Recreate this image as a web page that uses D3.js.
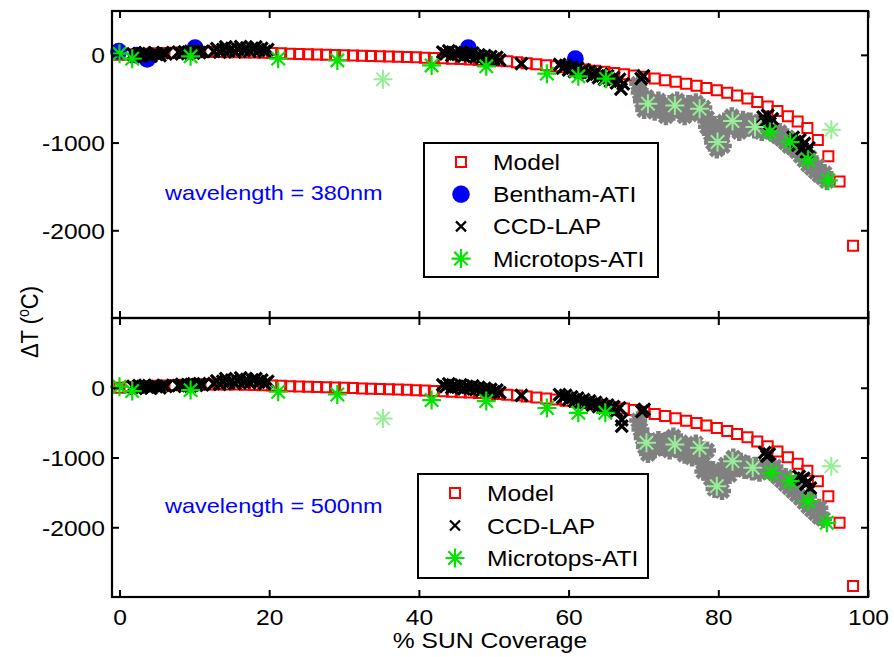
<!DOCTYPE html>
<html><head><meta charset="utf-8">
<script src="https://cdn.jsdelivr.net/npm/d3@7"></script>
<style>
body{margin:0;background:#fff;}
svg{display:block;font-family:"Liberation Sans",Arial,sans-serif;}
</style></head><body>
<svg id="c" width="894" height="657"></svg>
<script>
// ---------------- DATA ----------------
const xTicks = [0, 20, 40, 60, 80, 100];
const yTicks = [-2000, -1000, 0];
const xTitle = "% SUN Coverage";
const panelLabels = ["wavelength = 380nm", "wavelength = 500nm"];
const legendTop = ["Model", "Bentham-ATI", "CCD-LAP", "Microtops-ATI"];
const legendBottom = ["Model", "CCD-LAP", "Microtops-ATI"];

const modelX = [0,1.2,2.4,3.6,4.8,6.0,7.2,8.4,9.6,10.8,12.0,13.2,14.4,15.6,16.8,18.0,19.2,20.4,21.6,22.8,24.0,25.2,26.4,27.6,28.8,30.0,31.2,32.4,33.6,34.8,36.0,37.2,38.4,39.6,40.8,42.0,43.2,44.4,45.6,46.8,48.0,49.2,50.5,51.8,53.1,54.4,55.7,57.0,58.3,59.6,60.9,62.2,63.5,64.8,66.1,67.4,68.7,70.1,71.5,72.9,74.3,75.7,77.1,78.4,79.8,81.2,82.5,83.9,85.2,86.6,87.9,89.3,90.6,91.9,93.3,94.7,96.2,98.0];
const model380 = [0,5,10,14,18,22,25,28,30,31,32,32,31,30,28,26,23,20,17,14,11,8,5,2,-1,-4,-7,-10,-13,-16,-19,-22,-25,-28,-32,-36,-40,-44,-48,-53,-58,-63,-68,-74,-85,-96,-107,-118,-129,-141,-153,-166,-180,-194,-208,-222,-236,-250,-270,-289,-308,-328,-352,-377,-403,-432,-462,-497,-537,-588,-640,-700,-760,-835,-970,-1156,-1445,-2175];
const model500 = [0,8,15,22,28,33,38,42,45,47,48,48,47,45,42,39,35,31,27,23,19,15,11,7,3,-1,-5,-9,-13,-17,-21,-25,-30,-35,-40,-45,-51,-57,-63,-69,-76,-83,-91,-100,-112,-126,-140,-155,-170,-186,-202,-220,-238,-257,-276,-296,-318,-345,-376,-406,-438,-472,-505,-540,-578,-620,-662,-710,-770,-840,-915,-995,-1090,-1190,-1339,-1554,-1936,-2844];

const bentham380 = [[-0.1,40],[2.3,-5],[3.7,-50],[10.1,80],[46.6,80],[60.9,-45]];

const ccd380 = [[1.8,10],[2.2,-20],[2.6,15],[3.0,-5],[3.4,25],[3.8,0],[4.2,-15],[4.6,20],[5.0,5],[5.4,-10],[5.8,25],[6.2,10],
 [7.9,30],[8.3,10],[8.7,35],[9.1,15],[9.5,40],[9.9,20],[10.3,45],[10.7,25],[11.1,40],
 [12.6,40],[13.0,70],[13.4,30],[13.8,60],[14.2,90],[14.6,45],[15.0,75],[15.4,35],[15.8,65],[16.2,95],[16.6,50],[17.0,80],[17.4,40],[17.8,70],[18.2,90],[18.6,50],[19.0,75],[19.4,40],[19.8,60],
 [43.2,30],[43.6,10],[44.0,45],[44.4,-5],[44.8,25],[45.2,5],[45.6,35],[46.0,-15],[46.4,15],[46.8,-5],[47.2,20],[47.6,-25],[48.0,0],[48.4,-35],[48.8,-10],[49.2,-45],[49.6,-20],[50.0,-50],[50.4,-30],[50.8,-60],
 [53.7,-100],
 [58.8,-110],[59.2,-150],[59.6,-120],[60.0,-170],[60.4,-140],[60.8,-190],[61.2,-150],[61.6,-200],[62.0,-170],[62.4,-220],[62.8,-190],[63.2,-240],[63.6,-200],[64.0,-260],[64.4,-220],[64.8,-280],[65.2,-240],[65.6,-300],[66.0,-260],[66.4,-320],[66.8,-280],[67.0,-390],[67.3,-330],
 [69.7,-270],[70.0,-240],
 [86.0,-710],[86.3,-760],[86.6,-690],[86.9,-780],[87.2,-730],
 [90.0,-940],[90.3,-990],[90.6,-1030],[90.9,-970],[91.2,-1070],[91.5,-1010],[91.8,-1110],[92.1,-1060]];

const ccd500 = [[1.8,20],[2.2,-10],[2.6,30],[3.0,5],[3.4,35],[3.8,10],[4.2,-5],[4.6,30],[5.0,15],[5.4,0],[5.8,35],[6.2,20],
 [7.9,30],[8.3,50],[8.7,20],[9.1,45],[9.5,25],[9.9,55],[10.3,35],[10.7,60],[11.1,40],
 [12.6,60],[13.0,100],[13.4,50],[13.8,90],[14.2,130],[14.6,70],[15.0,110],[15.4,60],[15.8,100],[16.2,140],[16.6,80],[17.0,120],[17.4,70],[17.8,110],[18.2,130],[18.6,80],[19.0,110],[19.4,60],[19.8,90],
 [43.2,40],[43.6,15],[44.0,55],[44.4,0],[44.8,30],[45.2,10],[45.6,40],[46.0,-15],[46.4,20],[46.8,-5],[47.2,25],[47.6,-25],[48.0,5],[48.4,-40],[48.8,-10],[49.2,-50],[49.6,-25],[50.0,-60],[50.4,-35],[50.8,-70],
 [53.7,-110],
 [58.8,-100],[59.2,-140],[59.6,-110],[60.0,-170],[60.4,-130],[60.8,-190],[61.2,-150],[61.6,-210],[62.0,-170],[62.4,-230],[62.8,-190],[63.2,-250],[63.6,-210],[64.0,-270],[64.4,-230],[64.8,-290],[65.2,-250],[65.6,-310],[66.0,-270],[66.4,-330],[66.8,-290],[67.1,-460],[67.1,-550],
 [69.8,-340],[70.1,-310],
 [86.2,-930],[86.5,-980],[86.8,-950],
 [90.8,-1270],[91.1,-1320],[91.4,-1300],[91.7,-1380],[92.0,-1350],[92.3,-1440]];

const micro380 = [[0,14],[1.7,-43],[9.5,-17],[21.2,-43],[29.1,-63],[41.7,-120],[49.0,-131],[57.1,-214],[61.3,-245],[65.0,-271],[86.9,-880],[89.6,-994],[92.0,-1195],[94.7,-1431]];
const microLight380 = [[35.2,-279],[70.6,-556],[74.2,-576],[77.5,-613],[79.9,-994],[81.9,-755],[84.9,-823],[95.1,-853]];
const micro500 = [[0,14],[1.7,-48],[9.5,-34],[21.2,-57],[29.1,-96],[41.7,-177],[49.0,-191],[57.1,-290],[61.3,-359],[64.9,-359],[87.1,-1219],[89.6,-1339],[92.0,-1626],[94.5,-1936]];
const microLight500 = [[35.2,-440],[70.4,-789],[74.2,-813],[77.5,-860],[79.8,-1411],[81.9,-1052],[84.6,-1147],[95.1,-1124]];

const microRaw380 = [[69.3,-330],[69.5,-430],[69.8,-530],[70.1,-630],[70.4,-480],
 [71.0,-560],[71.5,-650],[72.0,-520],[72.5,-610],[73.0,-700],[73.5,-560],[74.0,-650],[74.5,-520],[75.0,-620],[75.5,-700],[76.0,-560],[76.5,-640],[77.0,-540],[77.5,-680],[78.0,-600],[78.5,-720],
 [78.5,-820],[79.0,-900],[79.3,-1000],[79.8,-1080],[80.3,-950],[80.6,-1040],[79.5,-800],[80.0,-870],
 [80.8,-760],[81.3,-840],[81.8,-700],[82.3,-800],[82.8,-880],[83.3,-740],[83.8,-830],[84.3,-760],
 [84.8,-850],[85.3,-780],[85.8,-880],[86.3,-820],
 [87.0,-850],[87.5,-900],[88.0,-930],[88.5,-960],[89.0,-1000],[89.5,-1040],[90.0,-1060],[90.5,-1100],[91.0,-1150],[91.5,-1200],[92.0,-1250],[92.5,-1290],[93.0,-1330],[93.5,-1370],[94.0,-1400],[94.5,-1440],
 [88.2,-880],[89.2,-940],[90.2,-1000],[91.2,-1080],[92.2,-1170],[93.2,-1270],[94.2,-1350]];
const microRaw500 = [[69.3,-470],[69.6,-600],[69.9,-720],[70.2,-850],[70.6,-950],[71.0,-780],[71.5,-880],[72.0,-750],
 [72.5,-850],[73.0,-760],[73.5,-900],[74.0,-700],[74.5,-880],[75.0,-780],[75.5,-960],[76.0,-850],[76.5,-1000],[77.0,-800],[77.5,-950],[78.0,-1080],[78.5,-900],[78.0,-1200],
 [79.0,-1300],[79.5,-1450],[80.2,-1350],[80.6,-1200],[81.0,-1100],[81.5,-1250],[79.3,-1180],[80.5,-1480],
 [82.0,-1000],[82.5,-1150],[83.0,-1060],[83.5,-1180],[84.0,-1100],[84.5,-1200],[85.0,-1120],[85.5,-1220],
 [86.5,-1120],[87.0,-1180],[87.5,-1230],[88.0,-1280],[88.5,-1330],[89.0,-1380],[89.5,-1430],[90.0,-1480],[90.5,-1530],[91.0,-1580],[91.5,-1640],[92.0,-1700],[92.5,-1750],[93.0,-1800],[93.5,-1850],[94.0,-1880],
 [87.5,-1130],[89.0,-1280],[90.5,-1400],[92.0,-1560],[93.5,-1720]];

// ---------------- DRAWING ----------------
const W = 894, H = 657, SX = 1.12;
const RED = "#ff0000", BLUE = "#0000ff", GREEN = "#00e400", LGREEN = "#98ee98", GRAY = "#808080";
const svg = d3.select("#c");
svg.append("rect").attr("width", W).attr("height", H).attr("fill", "#fff");
const plainFmt = d => String(d);   // hyphen-minus, as in the original

const x = d3.scaleLinear().domain([-1, 100]).range([112, 868]);
const panels = [
  {y: d3.scaleLinear().domain([-3000, 500]).range([318, 11]), model: model380, bentham: bentham380, ccd: ccd380, micro: micro380, light: microLight380, raw: microRaw380, label: panelLabels[0], legend: legendTop, labelY: 200, xLabels: false},
  {y: d3.scaleLinear().domain([-3000, 1000]).range([597, 318]), model: model500, bentham: [], ccd: ccd500, micro: micro500, light: microLight500, raw: microRaw500, label: panelLabels[1], legend: legendBottom, labelY: 513, xLabels: true}
];

function asterisk(r) {
  const d = r * 0.7071;
  return `M${-r},0L${r},0M0,${-r}L0,${r}M${-d},${-d}L${d},${d}M${-d},${d}L${d},${-d}`;
}
function cross(r) { return `M${-r},${-r}L${r},${r}M${-r},${r}L${r},${-r}`; }

function marker(g, type, px, py) {
  const s = g.append("path").attr("transform", `translate(${px},${py})`);
  if (type === "Model") s.attr("d", d3.symbol(d3.symbolSquare, 100)()).attr("fill", "none").attr("stroke", RED).attr("stroke-width", 2);
  else if (type === "Bentham-ATI") s.attr("d", d3.symbol(d3.symbolCircle, 227)()).attr("fill", BLUE).attr("stroke", BLUE).attr("stroke-width", 0.5);
  else if (type === "CCD-LAP") s.attr("d", cross(5)).attr("fill", "none").attr("stroke", "#000").attr("stroke-width", 2.2);
  else if (type === "Microtops-ATI") s.attr("d", asterisk(9.5)).attr("fill", "none").attr("stroke", GREEN).attr("stroke-width", 2.2);
  return s;
}

function stretchedText(parent, px, py, str, size, anchor, color) {
  return parent.append("text")
    .attr("transform", `translate(${px},${py}) scale(${SX},1)`)
    .attr("font-size", size).attr("text-anchor", anchor || "start")
    .attr("fill", color || "#000").text(str);
}

panels.forEach((p, i) => {
  const g = svg.append("g");
  const y = p.y;
  const [y0, y1] = y.range();
  // model squares
  g.append("g").selectAll("path").data(modelX.map((v, k) => [v, p.model[k]])).join("path")
    .attr("transform", d => `translate(${x(d[0])},${y(d[1])})`)
    .attr("d", d3.symbol(d3.symbolSquare, 100)()).attr("fill", "none").attr("stroke", RED).attr("stroke-width", 2);
  // bentham
  g.append("g").selectAll("path").data(p.bentham).join("path")
    .attr("transform", d => `translate(${x(d[0])},${y(d[1])})`)
    .attr("d", d3.symbol(d3.symbolCircle, 227)()).attr("fill", BLUE);
  // microtops raw (gray)
  g.append("g").selectAll("path").data(p.raw).join("path")
    .attr("transform", d => `translate(${x(d[0])},${y(d[1])})`)
    .attr("d", asterisk(9)).attr("fill", "none").attr("stroke", GRAY).attr("stroke-width", 4.5);
  // ccd
  g.append("g").selectAll("path").data(p.ccd).join("path")
    .attr("transform", d => `translate(${x(d[0])},${y(d[1])})`)
    .attr("d", cross(6)).attr("fill", "none").attr("stroke", "#000").attr("stroke-width", 3.2);
  // microtops light
  g.append("g").selectAll("path").data(p.light).join("path")
    .attr("transform", d => `translate(${x(d[0])},${y(d[1])})`)
    .attr("d", asterisk(9.5)).attr("fill", "none").attr("stroke", LGREEN).attr("stroke-width", 2);
  // microtops
  g.append("g").selectAll("path").data(p.micro).join("path")
    .attr("transform", d => `translate(${x(d[0])},${y(d[1])})`)
    .attr("d", asterisk(9.5)).attr("fill", "none").attr("stroke", GREEN).attr("stroke-width", 2.2);

  // axes
  const ax = svg.append("g").attr("font-family", '"Liberation Sans",Arial,sans-serif');
  const left = ax.append("g").attr("transform", `translate(${x.range()[0]},0)`)
    .call(d3.axisLeft(y).tickValues(yTicks).tickSize(-7).tickPadding(8).tickFormat(plainFmt));
  const right = ax.append("g").attr("transform", `translate(${x.range()[1]},0)`)
    .call(d3.axisRight(y).tickValues(yTicks).tickSize(-7).tickFormat(""));
  const top = ax.append("g").attr("transform", `translate(0,${y1})`)
    .call(d3.axisTop(x).tickValues(xTicks).tickSize(-7).tickFormat(""));
  const bottom = ax.append("g").attr("transform", `translate(0,${y0})`)
    .call(d3.axisBottom(x).tickValues(xTicks).tickSize(-7).tickPadding(10).tickFormat(p.xLabels ? plainFmt : ""));
  [left, right, top, bottom].forEach(a => {
    a.select(".domain").remove();
    a.selectAll("line").attr("stroke", "#000").attr("stroke-width", 2);
    a.selectAll("text").attr("font-size", 22).attr("fill", "#000");
  });
  left.selectAll("text").attr("x", -7 / SX).attr("transform", `scale(${SX},1)`).attr("dy", "0.36em");
  bottom.selectAll("text").attr("transform", `scale(${SX},1)`).attr("y", 12).attr("dy", "0.72em");
  ax.append("rect").attr("x", x.range()[0]).attr("y", y1).attr("width", x.range()[1] - x.range()[0]).attr("height", y0 - y1)
    .attr("fill", "none").attr("stroke", "#000").attr("stroke-width", 2.2);

  // panel annotation
  stretchedText(svg, 165, p.labelY, p.label, 21, "start", BLUE);

  // legend
  const L = i === 0 ? {x: 424, y: 143, w: 234, h: 134, first: 162, step: 32.2, mx: 461, tx: 493}
                    : {x: 418, y: 474, w: 230, h: 104, first: 493, step: 32.5, mx: 455, tx: 487};
  const lg = svg.append("g");
  lg.append("rect").attr("x", L.x).attr("y", L.y).attr("width", L.w).attr("height", L.h)
    .attr("fill", "#fff").attr("stroke", "#000").attr("stroke-width", 2);
  p.legend.forEach((name, k) => {
    const ly = L.first + k * L.step;
    marker(lg, name, L.mx, ly);
    stretchedText(lg, L.tx, ly + 8, name, 22, "start", "#000");
  });
});

// x title
stretchedText(svg, 490, 648, xTitle, 22, "middle", "#000");
// y title
const yt = svg.append("text")
  .attr("transform", `translate(38,322) scale(${SX},1) rotate(-90)`)
  .attr("font-size", 22).attr("text-anchor", "middle").attr("fill", "#000");
yt.append("tspan").text("\u0394T  (");
yt.append("tspan").attr("font-size", 14).attr("dy", -8).text("o");
yt.append("tspan").attr("dy", 8).text("C)");
</script>
</body></html>
